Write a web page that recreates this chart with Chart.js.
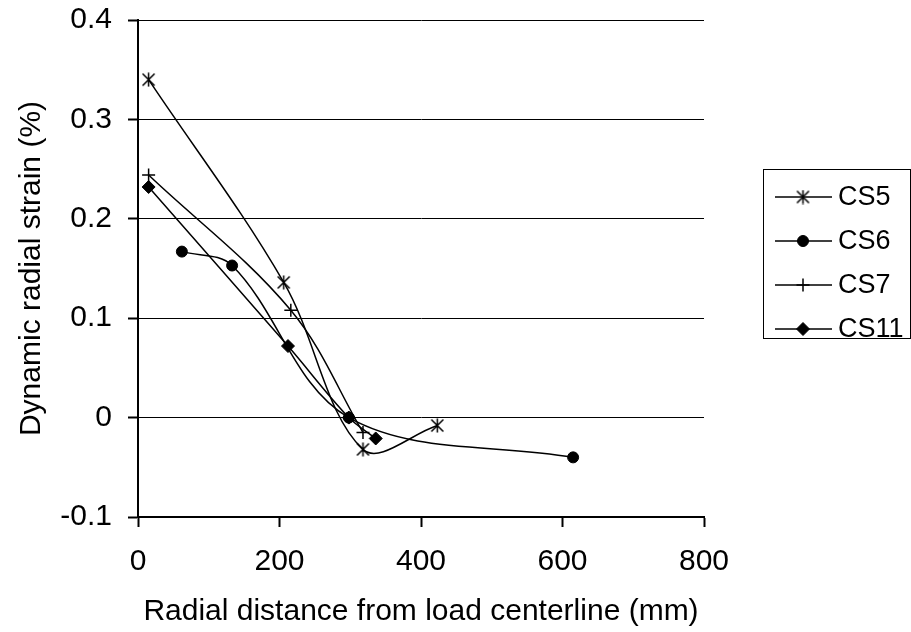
<!doctype html>
<html>
<head>
  <meta charset="utf-8">
  <title>Dynamic radial strain</title>
  <script src="https://cdn.jsdelivr.net/npm/chart.js@4.4.1/dist/chart.umd.min.js"></script>
  <style>
    body{margin:0;background:#fff;}
    #box{width:911px;height:632px;}
  </style>
</head>
<body>
<div id="box"><canvas id="strain" width="911" height="632"></canvas></div>

<script>
// values
const cs5X  = [15, 206, 318, 423];
const cs5Y  = [0.34, 0.136, -0.032, -0.008];
const cs6X  = [62, 133, 298, 615];
const cs6Y  = [0.167, 0.153, 0, -0.040];
const cs7X  = [15, 216, 318];
const cs7Y  = [0.244, 0.108, -0.015];
const cs11X = [15, 212, 298, 336];
const cs11Y = [0.232, 0.072, 0, -0.021];

const seriesNames = ['CS5', 'CS6', 'CS7', 'CS11'];
const xTickLabels = ['0', '200', '400', '600', '800'];
const yTickLabels = ['-0.1', '0', '0.1', '0.2', '0.3', '0.4'];

const FONT = 'Liberation Sans, Arial, sans-serif';
Chart.defaults.font.family = FONT;
Chart.defaults.color = '#000';

// Excel style star marker: X plus a vertical bar
function starMarker() {
  const c = document.createElement('canvas');
  c.width = c.height = 15;
  const g = c.getContext('2d');
  g.strokeStyle = '#000';
  g.lineWidth = 1.5;
  g.beginPath();
  g.moveTo(1.5, 1.5);  g.lineTo(13.5, 13.5);
  g.moveTo(13.5, 1.5); g.lineTo(1.5, 13.5);
  g.moveTo(7.5, 0.5);  g.lineTo(7.5, 14.5);
  g.stroke();
  return c;
}

const pts = (xs, ys) => xs.map((x, i) => ({x, y: ys[i]}));

function series(label, xs, ys, style, radius) {
  return {
    label,
    data: pts(xs, ys),
    borderColor: '#000',
    backgroundColor: '#000',
    borderWidth: 1.5,
    tension: 0.35,
    pointStyle: style,
    pointRadius: radius,
    pointHoverRadius: radius,
    pointBorderWidth: style === 'cross' ? 1.5 : 1,
    pointBackgroundColor: '#000',
    pointBorderColor: '#000'
  };
}

// boxed legend on the right, line sample with marker
const boxLegend = {
  id: 'boxLegend',
  afterDraw(chart) {
    const ctx = chart.ctx;
    ctx.save();
    ctx.strokeStyle = '#000';
    ctx.lineWidth = 1;
    ctx.strokeRect(763.5, 169.5, 147, 169);
    chart.data.datasets.forEach((ds, i) => {
      const y = 197 + i * 44;
      ctx.strokeStyle = '#000';
      ctx.lineWidth = 1.5;
      ctx.beginPath();
      ctx.moveTo(775, y);
      ctx.lineTo(832, y);
      ctx.stroke();
      ctx.fillStyle = '#000';
      ctx.lineWidth = ds.pointBorderWidth;
      Chart.helpers.drawPoint(ctx, {
        pointStyle: ds.pointStyle, radius: ds.pointRadius,
        rotation: 0, borderWidth: ds.pointBorderWidth
      }, 803, y);
      ctx.fillStyle = '#000';
      ctx.font = '27px ' + FONT;
      ctx.textBaseline = 'middle';
      ctx.textAlign = 'left';
      ctx.fillText(ds.label, 838, y + 1);
    });
    ctx.restore();
  }
};

new Chart(document.getElementById('strain'), {
  type: 'line',
  data: {
    datasets: [
      series(seriesNames[0], cs5X, cs5Y, starMarker(), 7),
      series(seriesNames[1], cs6X, cs6Y, 'circle', 5.5),
      series(seriesNames[2], cs7X, cs7Y, 'cross', 6.5),
      series(seriesNames[3], cs11X, cs11Y, 'rectRot', 6.5)
    ]
  },
  options: {
    responsive: false,
    animation: false,
    devicePixelRatio: 1,
    layout: {padding: {top: 20, right: 207, left: 0, bottom: 0}},
    plugins: {legend: {display: false}, tooltip: {enabled: false}},
    scales: {
      x: {
        type: 'linear', min: 0, max: 800,
        ticks: {stepSize: 200, padding: 17, font: {size: 30},
                callback: (v, i) => xTickLabels[i]},
        grid: {drawOnChartArea: false, tickLength: 10, tickWidth: 2, color: '#000'},
        border: {color: '#000', width: 2},
        title: {display: true, text: 'Radial distance from load centerline (mm)',
                font: {size: 30}, padding: {top: 0, bottom: 2}},
        afterFit: s => { s.height = 115; s.paddingLeft = 0; s.paddingRight = 0; }
      },
      y: {
        min: -0.1, max: 0.4,
        ticks: {stepSize: 0.1, padding: 16, font: {size: 30},
                callback: (v, i) => yTickLabels[i]},
        grid: {color: '#000', lineWidth: 1, tickLength: 10, tickWidth: 2},
        border: {color: '#000', width: 2},
        title: {display: true, text: 'Dynamic radial strain (%)',
                font: {size: 30}, padding: {top: 14, bottom: 0}},
        afterFit: s => { s.width = 138; s.paddingTop = 0; s.paddingBottom = 0; }
      }
    }
  },
  plugins: [boxLegend]
});
</script>
</body>
</html>
